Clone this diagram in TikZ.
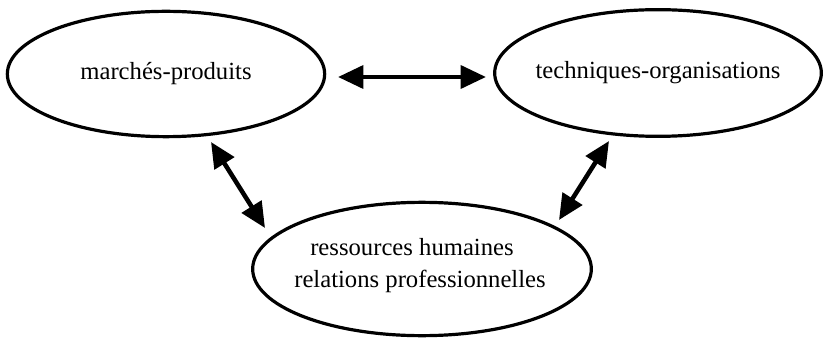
\documentclass[tikz,border=0pt]{standalone}
\usepackage{fontspec}
\setmainfont{Liberation Serif}
\usetikzlibrary{shapes.geometric,arrows.meta}
\tikzset{
  blob/.style={ellipse,draw,line width=2.4pt,inner sep=0pt},
  lbl/.style={font=\fontsize{18.5}{24}\selectfont,align=center,inner sep=0pt},
  link/.style={line width=3.4pt,{Triangle[length=19pt,width=17pt]}-{Triangle[length=19pt,width=17pt]}}
}
\begin{document}
\begin{tikzpicture}[x=0.75pt,y=0.75pt,yscale=-1,xscale=1]
\path[use as bounding box] (0,0) rectangle (823,338);

%Shape: Ellipse [id:mp]
\node[blob,minimum width=238pt,minimum height=94pt] (mp) at (166,74) {};
\node[lbl] (mptxt) at (mp) {marchés-produits};
%Shape: Ellipse [id:to]
\node[blob,minimum width=245pt,minimum height=95pt] (to) at (658,73) {};
\node[lbl] (totxt) at (to) {techniques-organisations};
%Shape: Ellipse [id:rh]
\node[blob,minimum width=254pt,minimum height=100pt] (rh) at (422,269) {};
\node[lbl] (rhtxt) at ([shift={(-2,-3)}]rh.center) {\hspace*{-12pt}ressources humaines\\relations professionnelles};

%Straight Lines [id:mp-to]
\draw[link] ([shift={(172,3)}]mp.center) -- ([shift={(-172,4)}]to.center);
%Straight Lines [id:mp-rh]
\draw[link] ([shift={(45,68)}]mp.center) -- ([shift={(-157,-41)}]rh.center);
%Straight Lines [id:to-rh]
\draw[link] ([shift={(-49,68)}]to.center) -- ([shift={(137,-49)}]rh.center);
\end{tikzpicture}
\end{document}
